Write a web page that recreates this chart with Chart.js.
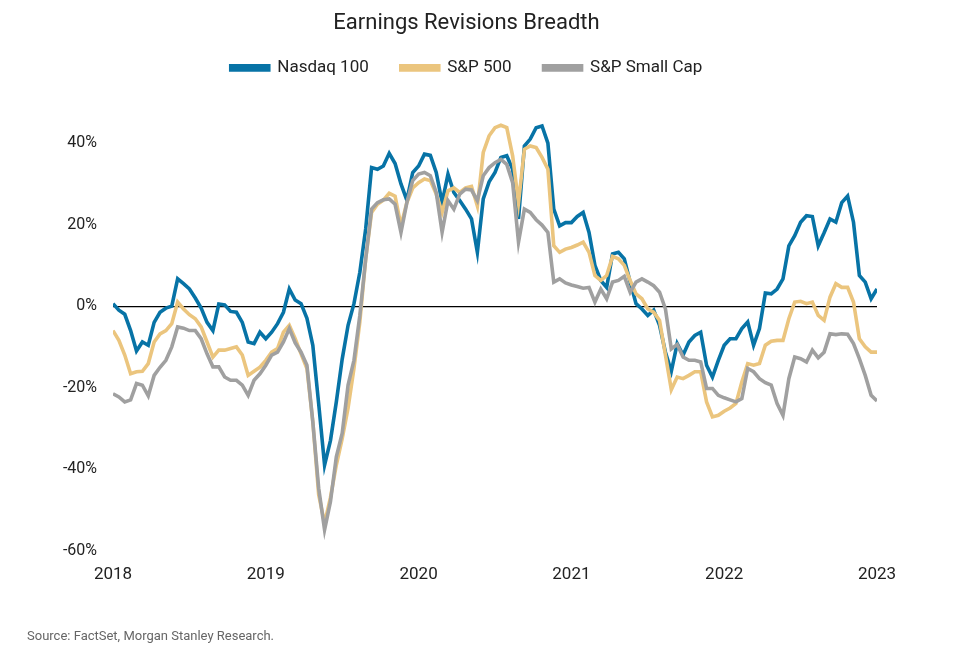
<!DOCTYPE html>
<html>
<head>
<meta charset="utf-8">
<script src="https://cdn.jsdelivr.net/npm/chart.js@4.4.1/dist/chart.umd.min.js"></script>
<style>
  html, body { margin: 0; padding: 0; background: #fff; }
  #wrap { position: relative; width: 960px; height: 662px; }
  #source { position: absolute; left: 27px; top: 628px; font: 13px Roboto, sans-serif; color: #666; }
</style>
</head>
<body>
<div id="wrap">
  <canvas id="chart" width="960" height="662"></canvas>
  <div id="source">Source: FactSet, Morgan Stanley Research.</div>
</div>
<script>
// Datos: una muestra cada dos semanas, 2018 -> 2023 (%)
const startYear = 2018;
const stepsPerYear = 26;
const yearTicks = [2018, 2019, 2020, 2021, 2022, 2023];
const pctTicks = [-60, -40, -20, 0, 20, 40];

const nasdaq100 = [
  0.6, -1, -2, -6, -11, -8.8, -9.6, -4, -1.5, -0.5, 0, 6.7, 5.5, 4.2, 2, -0.5,
  -4, -6, 0.5, 0.3, -1.3, -1.5, -4, -8.8, -9.2, -6.4, -8, -6.4, -4.3, -1.5, 4.2, 1.5,
  0.6, -3, -9.6, -24, -39, -33, -23.5, -13, -4.7, 0.6, 8.3, 19, 34, 33.6, 34.4, 37.5,
  35, 30, 26, 32.8, 34.4, 37.3, 37, 32.8, 25.4, 32.4, 27.9, 25.9, 23.8, 21.4, 13.2, 26.3,
  30.5, 32.8, 36.5, 36.9, 33.6, 21.4, 39.3, 41, 43.8, 44.2, 40, 23.8, 19.7, 20.5, 20.5, 22,
  23, 18.1, 10, 6.3, 4.6, 12.8, 13.2, 11.6, 5.9, 0.6, -0.7, -2.3, -1, -4.7, -11.3, -16,
  -9.2, -12, -8.8, -7.2, -6.4, -14.5, -17.4, -13.3, -9.6, -8, -8, -5.5, -3.9, -9.6, -5.5, 3.2,
  3, 4.2, 6.7, 14.8, 17.3, 20.6, 22.2, 22, 14.8, 18, 21.4, 20.6, 25.4, 27, 20.6, 7.5,
  5.9, 1.8, 4.2
];

const sp500 = [
  -6, -8.4, -12, -16.6, -16.1, -16, -14.1, -8.8, -6.8, -6, -4.3, 1, -0.7, -2.1, -3.1, -5.1,
  -8.8, -12.5, -10.8, -10.8, -10.4, -10, -12, -17, -16, -15, -13.3, -11.3, -10.4, -6.4, -4.7, -8,
  -11.7, -15.3, -28.4, -46.3, -53.3, -47, -39, -32.5, -25, -15.3, -3.9, 11.6, 23, 25, 26, 27.7,
  27, 19.7, 25.4, 29, 30.3, 31.2, 30.8, 27.5, 23, 28.3, 29, 27.9, 29, 29.4, 24.6, 37.7,
  41.8, 43.8, 44.4, 43.8, 36.9, 25.4, 38.5, 39.3, 38.9, 36.5, 33.6, 14.8, 13.2, 14, 14.4, 15,
  15.7, 13.2, 7.5, 6.3, 7.5, 12.2, 11.6, 10, 6.3, 3, 1.8, -0.7, -1.5, -3.5, -12, -20.5,
  -17.4, -17.8, -17, -16.1, -16.1, -23.5, -27.2, -26.8, -25.8, -25, -23.9, -18.6, -14.1, -14.5, -14.1, -9.6,
  -8.6, -8.4, -8.4, -3.1, 1, 1.2, 0.6, 1, -2.3, -3.5, 2.2, 5.5, 4.6, 4.6, 1, -8,
  -10, -11.3, -11.3
];

const spSmallCap = [
  -21.5, -22.3, -23.5, -23, -19, -19.4, -22, -17, -15, -13.3, -10, -5.1, -5.4, -6, -6, -8,
  -11.7, -14.9, -14.9, -17.4, -18.2, -18.2, -19.4, -21.9, -18.2, -16.6, -14.5, -12, -11.3, -8.8, -5.5, -9,
  -11.3, -14.5, -28.4, -44.7, -54.9, -48, -37, -31.2, -19.4, -13.3, -2.3, 11.6, 23.8, 25.4, 26.1, 26.3,
  25, 18.1, 25.4, 30.8, 32.4, 32.8, 32, 27.9, 18.1, 25.9, 23.8, 27.5, 28.7, 28.5, 25.9, 32,
  34, 35.2, 36, 34.8, 30.3, 15.7, 23.8, 23, 21.2, 19.9, 18.1, 5.9, 6.7, 5.7, 5.2, 4.8,
  4.4, 4.6, 1, 4.2, 1.8, 5.9, 6.3, 7.3, 3.4, 5.9, 6.7, 5.9, 5, 3.4, -0.7, -10.5,
  -9.4, -12.5, -13.3, -13.3, -13.7, -20.2, -20.2, -21.9, -22.5, -23, -23.5, -22.7, -15.3, -16.1, -17.8, -18.8,
  -19.4, -23.9, -26.8, -17.8, -12.5, -12.9, -13.7, -10.8, -12.7, -11.3, -6.8, -7, -6.8, -6.9, -9.2, -12.9,
  -17, -21.9, -23.3
];

// pasar a puntos {x: año, y: valor}
function toPoints(values) {
  return values.map((v, i) => ({ x: startYear + i / stepsPerYear, y: v }));
}

function serie(label, values, color, order) {
  return {
    label: label,
    data: toPoints(values),
    borderColor: color,
    backgroundColor: color,
    borderWidth: 3.6,
    pointRadius: 0,
    tension: 0,
    order: order
  };
}

// un poco de aire debajo de la leyenda
const legendGap = {
  id: 'legendGap',
  beforeLayout(chart) {
    const lg = chart.legend;
    if (lg && !lg._gap) {
      const fit = lg.fit;
      lg.fit = function () { fit.call(this); this.height += 16; };
      lg._gap = true;
    }
  }
};

Chart.defaults.font.family = 'Roboto, sans-serif';
Chart.defaults.color = '#222';

const ctx = document.getElementById('chart').getContext('2d');
const chart = new Chart(ctx, {
  type: 'line',
  data: {
    datasets: [
      serie('Nasdaq 100', nasdaq100, '#0773a6', 3),
      serie('S&P 500', sp500, '#ebc57e', 2),
      serie('S&P Small Cap', spSmallCap, '#a0a0a0', 1)
    ]
  },
  plugins: [legendGap],
  options: {
    responsive: false,
    animation: false,
    events: [],
    layout: { padding: { left: 56, right: 83, top: 0, bottom: 63 } },
    plugins: {
      title: {
        display: true,
        text: 'Earnings Revisions Breadth',
        color: '#222',
        font: { size: 22, weight: 'normal' },
        padding: { top: 10, bottom: -9 }
      },
      legend: {
        display: true,
        labels: {
          sort: (a, b) => a.datasetIndex - b.datasetIndex,
          boxWidth: 38,
          boxHeight: 4,
          padding: 32,
          color: '#222',
          font: { size: 17 }
        }
      },
      tooltip: { enabled: false }
    },
    scales: {
      x: {
        type: 'linear',
        min: startYear,
        max: 2023,
        grid: { display: false, drawTicks: false },
        border: { display: false },
        afterBuildTicks: axis => { axis.ticks = yearTicks.map(v => ({ value: v })); },
        ticks: {
          padding: 14,
          maxRotation: 0,
          font: { size: 17 },
          color: '#222',
          callback: v => String(v)
        }
      },
      y: {
        min: -60,
        max: 50,
        afterFit: scale => { scale.width = 57; },
        afterBuildTicks: axis => { axis.ticks = pctTicks.map(v => ({ value: v })); },
        grid: {
          drawTicks: false,
          color: c => (c.tick && c.tick.value === 0 ? '#000' : 'rgba(0,0,0,0)'),
          lineWidth: 1.2
        },
        border: { display: false },
        ticks: {
          padding: 16,
          font: { size: 16 },
          color: '#222',
          callback: v => v + '%'
        }
      }
    }
  }
});
</script>
</body>
</html>
